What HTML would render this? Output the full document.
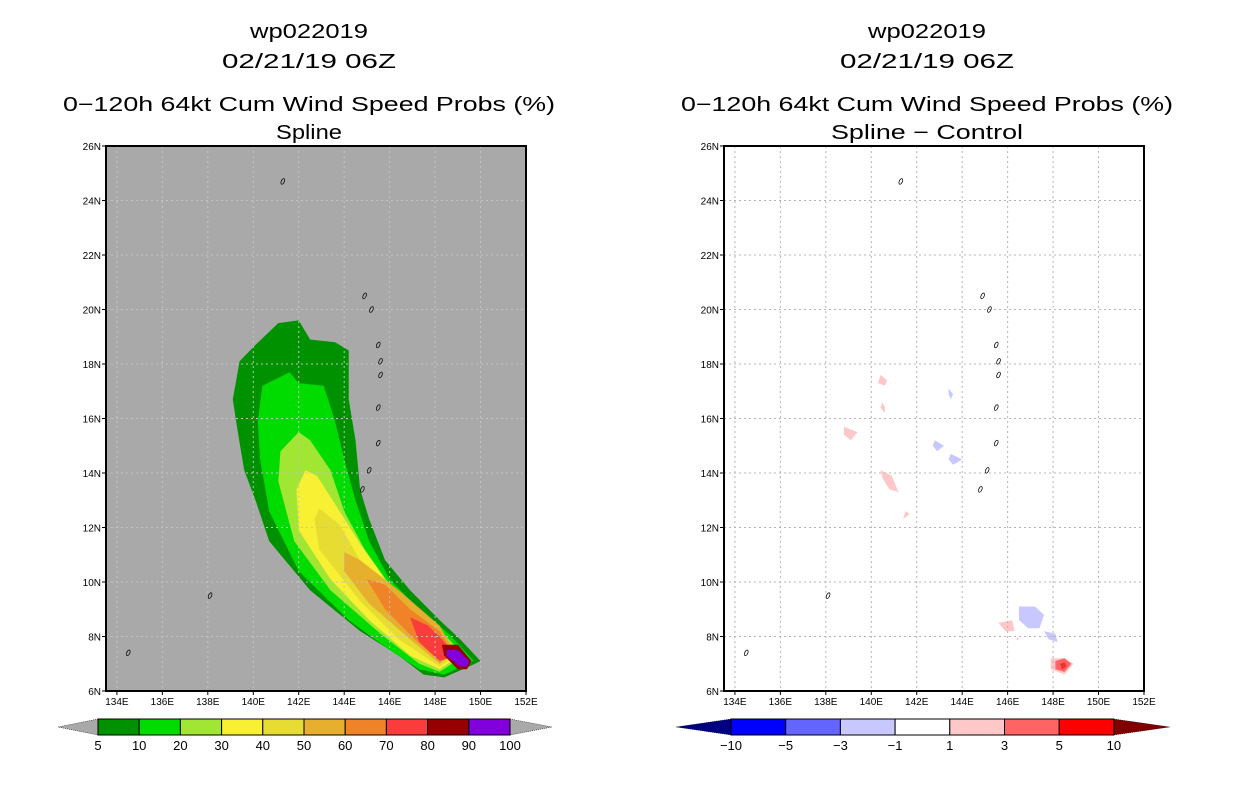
<!DOCTYPE html>
<html><head><meta charset="utf-8"><style>
html,body{margin:0;padding:0;background:#fff}
svg{display:block}
text{font-family:"Liberation Sans",sans-serif;fill:#000}
</style></head><body>
<svg id="s" width="1236" height="800" xmlns="http://www.w3.org/2000/svg"></svg>
<script>
// ---- data ----
const lonTicks=[134,136,138,140,142,144,146,148,150,152];
const latTicks=[6,8,10,12,14,16,18,20,22,24,26];
const probLevels=[5,10,20,30,40,50,60,70,80,90,100];
const probColors=['#009100','#00dc00','#a0e632','#f8f032','#e6dc32','#e6af2d','#f08228','#fa3c3c','#960000','#8200dc'];
const diffLevels=[-10,-5,-3,-1,1,3,5,10];
const diffColors=['#0000ff','#6464ff','#c8c8ff','#ffffff','#ffc8c8','#ff6464','#ff0000'];
const c05=[[141.1,19.5],[142.0,19.6],[142.5,18.9],[143.6,18.8],[144.2,18.5],[144.2,16.7],[144.5,15.2],[144.7,13.4],[145.1,12.3],[145.8,10.8],[146.9,9.7],[148.2,8.6],[149.1,7.9],[150.0,7.1],[149.5,6.9],[148.4,6.5],[147.5,6.6],[146.4,7.3],[144.7,8.2],[142.5,9.7],[140.7,11.5],[140.1,13.0],[139.6,14.1],[139.3,15.6],[139.1,16.7],[139.4,18.1],[140.1,18.7]];
const c10=[[141.6,17.7],[142.0,17.3],[143.1,17.2],[143.6,15.9],[144.0,14.5],[144.5,13.0],[145.1,11.5],[146.0,10.1],[147.3,9.0],[148.6,8.1],[149.7,7.1],[148.4,6.6],[147.3,6.8],[146.0,7.5],[144.2,8.6],[142.0,10.4],[140.7,12.6],[140.3,14.5],[140.2,15.9],[140.4,17.2]];
const c20=[[142.0,15.5],[142.5,15.2],[143.4,14.1],[144.0,12.6],[144.9,11.2],[146.0,9.9],[147.8,8.6],[149.3,7.3],[148.2,6.7],[147.3,7.0],[145.6,8.1],[143.4,9.7],[141.8,11.5],[141.1,13.7],[141.2,14.8]];
const c30=[[142.3,14.1],[142.8,13.9],[143.8,12.6],[144.7,11.4],[145.8,10.1],[147.5,8.8],[149.1,7.3],[148.2,6.8],[146.9,7.3],[145.1,8.6],[143.4,10.1],[142.0,11.9],[141.9,13.4]];
const c40=[[142.9,12.7],[143.8,12.1],[144.7,10.8],[146.4,9.5],[148.2,8.2],[148.9,7.3],[148.2,6.9],[146.4,7.9],[144.7,9.3],[142.9,11.2],[142.7,12.3]];
const c50=[[144.0,11.1],[144.7,10.8],[146.4,9.7],[148.2,8.4],[148.9,7.4],[148.2,7.0],[146.9,7.9],[145.1,9.2],[144.0,10.4]];
const c60=[[145.0,10.1],[145.8,9.9],[146.9,9.0],[148.2,8.2],[148.8,7.4],[148.2,7.1],[147.1,7.9],[145.8,9.0]];
const c70=[[146.9,8.7],[147.7,8.4],[148.4,7.8],[148.9,7.3],[148.2,7.1],[147.3,7.8]];
const c80=[[148.3,7.7],[149.0,7.7],[149.6,7.1],[149.4,6.8],[149.0,6.8],[148.4,7.3]];
const c90=[[148.5,7.5],[149.0,7.5],[149.5,7.1],[149.4,6.9],[149.1,6.9],[148.5,7.3]];
const probContours=[c05,c10,c20,c30,c40,c50,c60,c70,c80,c90];
const pinkBlobs=[
 [[140.4,17.6],[140.7,17.4],[140.6,17.2],[140.3,17.3]],
 [[140.5,16.6],[140.6,16.4],[140.6,16.2],[140.4,16.4]],
 [[138.8,15.7],[139.4,15.5],[139.1,15.2],[138.8,15.4]],
 [[140.4,14.1],[140.9,13.9],[141.2,13.3],[140.8,13.4],[140.5,13.8]],
 [[141.5,12.6],[141.7,12.5],[141.4,12.3]],
 [[145.6,8.5],[146.2,8.6],[146.3,8.2],[145.9,8.2]],
 [[146.4,8.0],[146.5,7.9],[146.4,7.85]],
 [[147.9,7.2],[148.5,7.2],[148.9,7.0],[148.5,6.6],[147.9,6.8]]];
const redBlobs=[[[148.1,7.1],[148.5,7.2],[148.8,7.0],[148.5,6.7],[148.1,6.8]]];
const deepRedBlobs=[[[148.3,7.0],[148.5,7.05],[148.6,6.9],[148.4,6.8]]];
const blueBlobs=[
 [[143.4,17.1],[143.6,16.9],[143.5,16.7],[143.4,16.9]],
 [[142.8,15.2],[143.2,15.0],[142.9,14.8],[142.7,15.0]],
 [[143.5,14.7],[144.0,14.5],[143.6,14.3],[143.4,14.5]],
 [[146.5,9.1],[147.2,9.1],[147.6,8.8],[147.4,8.3],[146.9,8.3],[146.5,8.6]],
 [[147.6,8.2],[148.1,8.1],[148.2,7.8],[147.8,7.9]]];
const islands=[[141.3,24.7],[144.9,20.5],[145.2,20.0],[145.5,18.7],[145.6,18.1],[145.6,17.6],[145.5,16.4],[145.5,15.1],[145.1,14.1],[144.8,13.4],[138.1,9.5],[134.5,7.4]];

// ---- helpers ----
const S=document.getElementById('s');const NS='http://www.w3.org/2000/svg';
function mk(t,a,p){const e=document.createElementNS(NS,t);for(const k in a)e.setAttribute(k,a[k]);(p||S).appendChild(e);return e;}
const lon0=133.52,lon1=152,lat0=6,lat1=26,W=420,H=545,Y0=146;
function sx(ox,lon){return ox+(lon-lon0)/(lon1-lon0)*W;}
function sy(lat){return Y0+H-(lat-lat0)/(lat1-lat0)*H;}
function poly(ox,pts){return pts.map(p=>sx(ox,p[0]).toFixed(1)+','+sy(p[1]).toFixed(1)).join(' ');}
function txt(x,y,s,size,anchor,len,name){const t=mk('text',{x:x,y:y,'font-size':size,'text-anchor':anchor||'middle'});if(len){t.setAttribute('textLength',len);t.setAttribute('lengthAdjust','spacingAndGlyphs');}t.textContent=s;

return t;}

function panel(ox,bg,gridCol,title4,len4,draw,side){
  const g=mk('g',{});
  
  
  const cx=ox+203;
  txt(cx,38,'wp022019',20,'middle',118,side+'-storm-id');
  txt(cx,68,'02/21/19 06Z',20,'middle',174,side+'-date-title');
  txt(cx,111,'0\u2212120h 64kt Cum Wind Speed Probs (%)',20,'middle',492,side+'-product-title');
  txt(cx,139,title4,20,'middle',len4,side+'-subtitle');
  const bgr=mk('rect',{x:ox,y:Y0,width:W,height:H,fill:bg},g);
  
  
  draw(g);
  lonTicks.forEach(l=>{const x=sx(ox,l);mk('line',{x1:x,y1:Y0,x2:x,y2:Y0+H,stroke:gridCol,'stroke-width':1,'stroke-dasharray':'2,3'},g);
    mk('line',{x1:x,y1:Y0+H,x2:x,y2:Y0+H+4,stroke:'#000'},g);
    txt(x,705,l+'E',10,'middle',null,side+'-lon-tick');});
  latTicks.forEach(l=>{const y=sy(l);mk('line',{x1:ox,y1:y,x2:ox+W,y2:y,stroke:gridCol,'stroke-width':1,'stroke-dasharray':'2,3'},g);
    mk('line',{x1:ox-4,y1:y,x2:ox,y2:y,stroke:'#000'},g);
    txt(ox-5,y+4,l+'N',10,'end',null,side+'-lat-tick');});
  islands.forEach(p=>{const e=mk('ellipse',{cx:sx(ox,p[0]),cy:sy(p[1]),rx:1.5,ry:3,fill:'none',stroke:'#000','stroke-width':0.8,transform:'rotate(25 '+sx(ox,p[0])+' '+sy(p[1])+')'},g);
    
    });
  const fr=mk('rect',{x:ox,y:Y0,width:W,height:H,fill:'none',stroke:'#000','stroke-width':2},g);
  
  
}
const LX=106,RX=724;
panel(LX,'#a9a9a9','#c4c4c4','Spline',66,g=>{
  probContours.forEach((c,i)=>{const p=mk('polygon',{points:poly(LX,c),fill:probColors[i]},g);
    
    });
},'left');
panel(RX,'#ffffff','#b4b4b4','Spline \u2212 Control',192,g=>{
  const groups=[[pinkBlobs,'#ffc8c8','positive-diff-1-3'],[redBlobs,'#ff6464','positive-diff-3-5'],[deepRedBlobs,'#f03030','positive-diff-5'],[blueBlobs,'#c8c8ff','negative-diff-1-3']];
  groups.forEach(gr=>gr[0].forEach(b=>{const p=mk('polygon',{points:poly(RX,b),fill:gr[1]},g);
    
    }));
},'right');

// colorbars
function colorbar(x0,bw,cols,levels,leftTri,rightTri,tl,tr,name,fmt){
  const g=mk('g',{});
  
  
  const y=719,h=16,n=cols.length,x1=x0+bw*n;
  mk('polygon',{points:`${x0},${y} ${x0-tl},${y+h/2} ${x0},${y+h}`,fill:leftTri,stroke:'#000','stroke-width':0.5,'stroke-dasharray':'1,1'},g);
  mk('polygon',{points:`${x1},${y} ${x1+tr},${y+h/2} ${x1},${y+h}`,fill:rightTri,stroke:'#000','stroke-width':0.5,'stroke-dasharray':'1,1'},g);
  cols.forEach((c,i)=>{const r=mk('rect',{x:x0+i*bw,y:y,width:bw,height:h,fill:c,stroke:'#000','stroke-width':1},g);
    
    });
  levels.forEach((l,i)=>txt(x0+i*bw,750,fmt(l),13,'middle',null,name+'-label'));
}
colorbar(98,41.2,probColors,probLevels,'#a9a9a9','#a9a9a9',40,42,'prob-colorbar',v=>String(v));
colorbar(731,54.7,diffColors,diffLevels,'#000080','#7f0000',55,56,'diff-colorbar',v=>v<0?'\u2212'+(-v):String(v));
</script>
</body></html>
